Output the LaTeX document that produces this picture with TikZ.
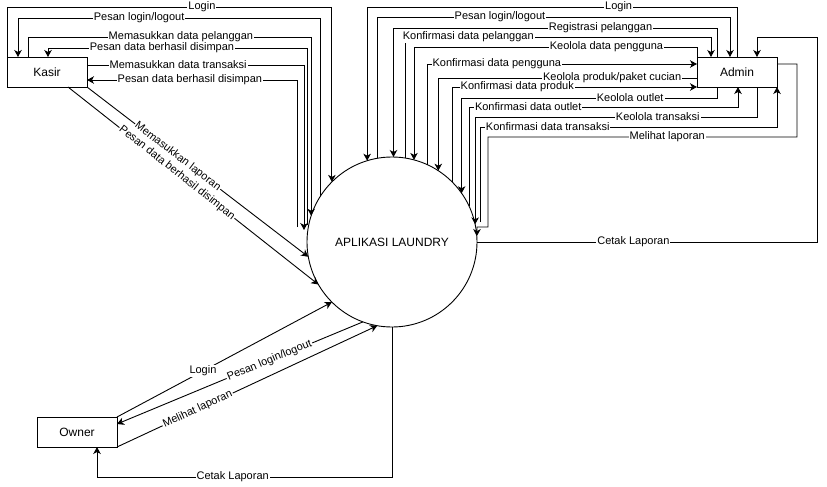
\documentclass[tikz,border=0pt]{standalone}
\usepackage{fontspec}
\setmainfont{Liberation Sans}
\usetikzlibrary{arrows.meta,calc}
\begin{document}
\begin{tikzpicture}[x=1pt,y=-1pt, line width=0.9pt,
  box/.style={draw, rectangle, minimum width=80pt, minimum height=30pt, inner sep=0pt, outer sep=0pt, font=\fontsize{12}{14}\selectfont},
  proc/.style={draw, circle, minimum size=170pt, inner sep=0pt, outer sep=0pt, font=\fontsize{12}{14}\selectfont},
  arr/.style={draw, -{Stealth[length=7pt,width=7.5pt,inset=2pt]}},
  lbl/.style={fill=white, inner sep=1pt, font=\fontsize{11}{13}\selectfont}]
\useasboundingbox (0,0) rectangle (827,487);
\fill[white] (0,0) rectangle (827,487);

\node[box] (kasir) at (47,72) {Kasir};
\node[box] (admin) at (737,72) {Admin};
\node[box] (owner) at (77,432) {Owner};
\node[proc] (sys) at (392,242) {APLIKASI LAUNDRY};

\coordinate (kc1) at ($(sys.west)+(0,-17)$);
\coordinate (kc2) at ($(sys.west)+(-3,-12)$);
\coordinate (kc3) at ($(sys.west)+(-10,-15)$);
\coordinate (ac1) at ($(sys.east)+(3,-20)$);

% Kasir
\draw[arr] (kasir.north west) -- ++(0,-50) -| node[lbl,pos=0.3]{Login} (sys.135);
\draw[arr] (sys.147) |- node[lbl,pos=0.8]{Pesan login/logout} ($(kasir.north west)+(11,-39)$) -- ($(kasir.north west)+(11,0)$);
\draw[arr] ($(kasir.north west)+(21,0)$) -- ++(0,-20) -| node[lbl,pos=0.27]{Memasukkan data pelanggan} (sys.162);
\draw[arr] (kc1) |- node[lbl,pos=0.78]{Pesan data berhasil disimpan} ($(kasir.north west)+(41,-9)$) -- ($(kasir.north west)+(41,0)$);
\draw[arr] ($(kasir.north east)+(0,8)$) -| node[lbl,pos=0.21]{Memasukkan data transaksi} (kc2);
\draw[arr] (kc3) |- node[lbl,pos=0.755]{Pesan data berhasil disimpan} ($(kasir.north east)+(0,23)$);
\draw[arr] (kasir.south east) -- node[lbl,sloped,pos=0.41]{Memasukkan laporan} (sys.190);
\draw[arr] ($(kasir.south)+(21,0)$) -- node[lbl,sloped,pos=0.435]{Pesan data berhasil disimpan} (sys.210);

% Admin
\draw[arr] (admin.north) -- ++(0,-50) -| node[lbl,pos=0.16]{Login} (sys.107);
\draw[arr] (sys.100) |- node[lbl,pos=0.674]{Pesan login/logout} ($(admin.north)+(-7,-40)$) -- ($(admin.north)+(-7,0)$);
\draw[arr] ($(admin.north)+(-20,0)$) -- ++(0,-29) -| node[lbl,pos=0.18]{Registrasi pelanggan} (sys.89);
\draw[arr] (sys.81) |- node[lbl,pos=0.603]{Konfirmasi data pelanggan} ($(admin.north)+(-26,-20)$) -- ($(admin.north)+(-26,0)$);
\draw[arr] (admin.north west) -- ++(0,-10) -| node[lbl,pos=0.16]{Keolola data pengguna} (sys.75);
\draw[arr] (sys.65) |- node[lbl,pos=0.628]{Konfirmasi data pengguna} ($(admin.north west)+(0,7)$);
\draw[arr] ($(admin.north west)+(0,21)$) -| node[lbl,pos=0.164]{Keolola produk/paket cucian} (sys.57);
\draw[arr] (sys.45) |- node[lbl,pos=0.633]{Konfirmasi data produk} (admin.south west);
\draw[arr] ($(admin.south)+(-20,0)$) -- ++(0,11) -| node[lbl,pos=0.17]{Keolola outlet} (sys.35);
\draw[arr] (sys.25) |- node[lbl,pos=0.61]{Konfirmasi data outlet} ($(admin.south)+(1,20)$) -- ($(admin.south)+(1,0)$);
\draw[arr] ($(admin.south)+(20,0)$) -- ++(0,30) -| node[lbl,pos=0.176]{Keolola transaksi} (sys.12);
\draw[arr] (ac1) |- node[lbl,pos=0.614]{Konfirmasi data transaksi} ($(admin.south east)+(0,40)$) -- (admin.south east);
\draw[arr] ($(admin.north east)+(0,7)$) -- ++(20,0) -- ++(0,73) -- node[lbl,pos=0.42]{Melihat laporan} ++(-309,0) -- ++(0,90) -- ++(-11,0) -- (sys.4);
\draw[arr] (sys.east) -- node[lbl,pos=0.46]{Cetak Laporan} ++(340,0) |- ($(admin.north)+(20,-20)$) -- ($(admin.north)+(20,0)$);

% Owner
\draw[arr] (owner.north east) -- node[lbl,pos=0.4]{Login} (sys.225);
\draw[arr] (sys.250) -- node[lbl,sloped,pos=0.38]{Pesan login/logout} ($(owner.north east)+(0,7)$);
\draw[arr] (owner.south east) -- node[lbl,sloped,pos=0.31]{Melihat laporan} (sys.260);
\draw[arr] (sys.south) -- ++(0,150) -| node[lbl,pos=0.27]{Cetak Laporan} ($(owner.south)+(20,0)$);
\end{tikzpicture}
\end{document}
